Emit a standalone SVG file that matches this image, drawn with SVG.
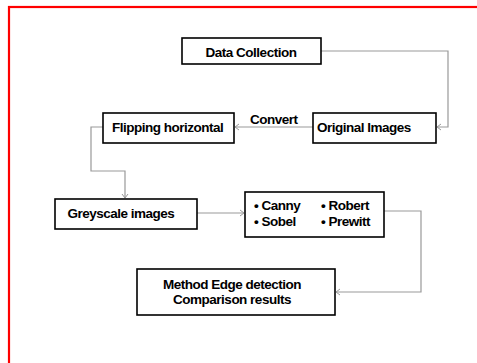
<svg xmlns="http://www.w3.org/2000/svg" width="477" height="363" viewBox="0 0 477 363">
  <style>
    .box { fill: #fff; stroke: #000; stroke-width: 1.6; }
    .lbl { font-family: "Liberation Sans", Arial, sans-serif; font-weight: bold; font-size: 13.5px; letter-spacing: -0.5px; fill: #000; }
    .mid { text-anchor: middle; }
    .link { fill: none; stroke: #999; stroke-width: 1.2; }
  </style>
  <defs>
    <marker id="chev" markerWidth="8" markerHeight="8" refX="6" refY="4" orient="auto" markerUnits="userSpaceOnUse">
      <path d="M2,1 L6,4 L2,7" fill="none" stroke="#999" stroke-width="1"/>
    </marker>
  </defs>
  <rect width="477" height="363" fill="#fff"/>
  <!-- outer frame -->
  <rect x="9" y="7" width="480" height="370" fill="none" stroke="#f00" stroke-width="2.2"/>

  <g id="connectors">
    <path class="link" d="M321,51 H448 V127 H437" marker-end="url(#chev)"/>
    <path class="link" d="M313,127 H235" marker-end="url(#chev)"/>
    <path class="link" d="M103,127 H91 V171 H125 V198" marker-end="url(#chev)"/>
    <path class="link" d="M197,213 H244" marker-end="url(#chev)"/>
    <path class="link" d="M384,211 H421 V292 H336" marker-end="url(#chev)"/>
    <text class="lbl" x="250" y="124">Convert</text>
  </g>

  <g id="data-collection">
    <rect class="box" x="182" y="38" width="139" height="26"/>
    <text class="lbl mid" x="251" y="57">Data Collection</text>
  </g>

  <g id="original-images">
    <rect class="box" x="313" y="113" width="123" height="30"/>
    <text class="lbl" x="317" y="131.5">Original Images</text>
  </g>

  <g id="flipping">
    <rect class="box" x="103" y="113" width="131" height="30"/>
    <text class="lbl" x="112" y="131.5">Flipping horizontal</text>
  </g>

  <g id="greyscale">
    <rect class="box" x="55" y="199" width="142" height="30"/>
    <text class="lbl" x="67.5" y="217.7">Greyscale images</text>
  </g>

  <g id="methods">
    <rect class="box" x="245" y="192" width="139" height="45"/>
    <text class="lbl" x="254" y="210">• Canny</text>
    <text class="lbl" x="254" y="225.5">• Sobel</text>
    <text class="lbl" x="321" y="210">• Robert</text>
    <text class="lbl" x="321" y="225.5">• Prewitt</text>
  </g>

  <g id="results">
    <rect class="box" x="137" y="269" width="198" height="46"/>
    <text class="lbl mid" x="232" y="289">Method Edge detection</text>
    <text class="lbl mid" x="232" y="304">Comparison results</text>
  </g>
</svg>
